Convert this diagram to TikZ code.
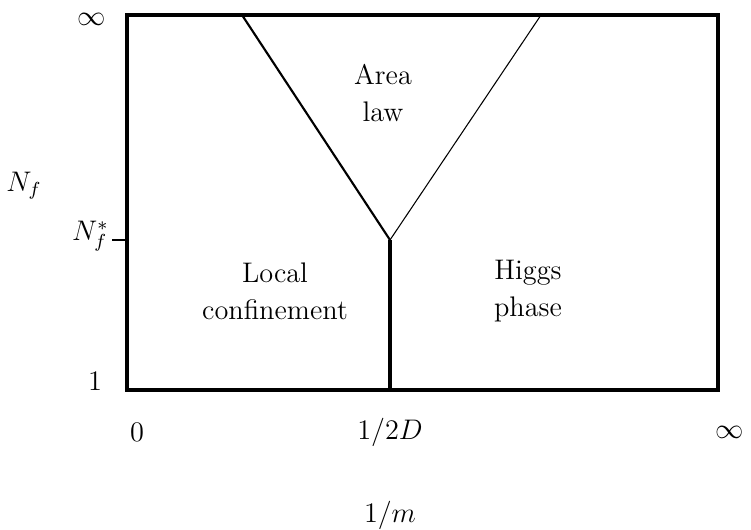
\documentclass[tikz,border=0pt]{standalone}
\begin{document}
\begin{tikzpicture}[x=0.4237pt,y=-0.4237pt,
  lbl/.style={inner sep=0pt,align=center,font=\fontsize{12}{15.7}\selectfont},
  boxline/.style={line width=1.3pt},
  thickline/.style={line width=0.9pt},
  thinline/.style={line width=0.45pt}]
\useasboundingbox (0,0) rectangle (751,529);
\coordinate (TL) at (127,15);
\coordinate (BR) at (718,390);
\coordinate (J) at (390,240);
\coordinate (A) at (242,15);
\coordinate (B) at (541,15);
\coordinate (C) at (390,390);
\coordinate (T1) at (112,240);
\coordinate (T2) at (127,240);
\draw[boxline] (TL) rectangle (BR);
\draw[thickline] (A) -- (J);
\draw[thinline] (J) -- (B);
\draw[boxline] (J) -- (C);
\draw[thickline] (T1) -- (T2);
\node[lbl] (inftop) at (92,19) {$\infty$};
\node[lbl] (nf) at (24,186) {$N_f$};
\node[lbl,anchor=east] (nfs) at (109,236) {$N_f^*$};
\node[lbl] (one) at (95,381) {1};
\node[lbl] (zero) at (137,432) {0};
\node[lbl] (half) at (390,432) {$1/2D$};
\node[lbl] (infr) at (730,432) {$\infty$};
\node[lbl] (m) at (390,515) {$1/m$};
\node[lbl] (area) at (383,93) {Area\\law};
\node[lbl] (local) at (275,291) {Local\\confinement};
\node[lbl] (higgs) at (528,291) {Higgs\\phase};
\end{tikzpicture}
\end{document}
